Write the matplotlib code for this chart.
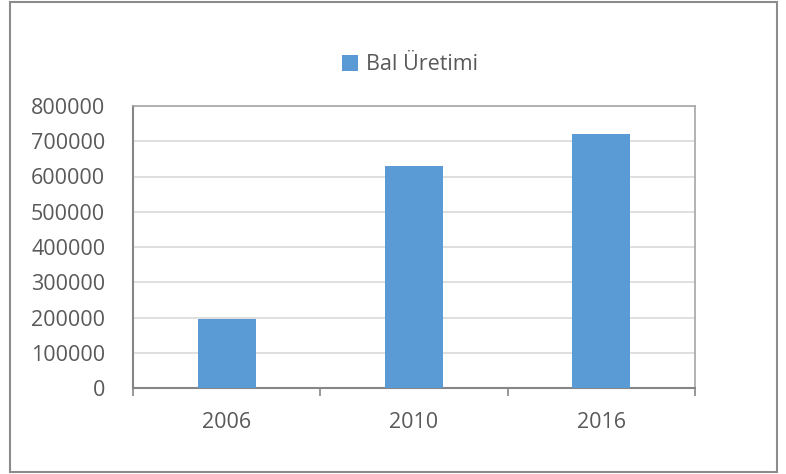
import matplotlib
matplotlib.use("Agg")
import matplotlib.pyplot as plt
from matplotlib.patches import Rectangle
import numpy as np

# data
years = ["2006", "2010", "2016"]
bal_uretimi = [197000, 630000, 720000]
series_name = "Bal Üretimi"

plt.rcParams['font.family'] = ['Open Sans', 'DejaVu Sans']

fig = plt.figure(figsize=(7.86, 4.74), dpi=100)
ax = fig.add_axes([133 / 786, 1 - 388 / 474, (695 - 133) / 786, (388 - 106) / 474])

x = np.arange(len(years))
ax.bar(x, bal_uretimi, width=0.31, color="#5B9BD5", zorder=3, label=series_name)

ax.set_xlim(-0.5, len(years) - 0.5)
ax.set_ylim(0, 800000)
ax.set_yticks(np.arange(0, 800001, 100000))
ax.set_yticklabels([str(v) for v in range(0, 800001, 100000)])
ax.grid(axis="y", color="#D9D9D9", linewidth=1.2, zorder=0)

# category labels in the middle, tick marks on the boundaries
ax.set_xticks(x)
ax.set_xticklabels(years)
ax.set_xticks(np.arange(-0.5, len(years)), minor=True)
ax.tick_params(axis="x", which="major", length=0, pad=17, labelsize=15.5, labelcolor="#595959")
ax.tick_params(axis="x", which="minor", length=6, width=1.2, color="#868686", direction="out")
ax.tick_params(axis="y", length=0, pad=20, labelsize=15.5, labelcolor="#595959")

for side in ["left", "bottom"]:
    ax.spines[side].set_color("#868686")
    ax.spines[side].set_linewidth(1.5)
for side in ["top", "right"]:
    ax.spines[side].set_color("#A6A6A6")
    ax.spines[side].set_linewidth(1.2)

leg = fig.legend(loc="center", bbox_to_anchor=(410 / 786, 1 - 65 / 474), frameon=False,
                 fontsize=15.5, handlelength=0.75, handleheight=0.75, handletextpad=0.4)
for t in leg.get_texts():
    t.set_color("#595959")

# outer chart border
fig.patches.append(Rectangle((10 / 786, 2 / 474), 767 / 786, 470 / 474, transform=fig.transFigure,
                             fill=False, edgecolor="#8C8C8C", linewidth=1.5))

fig.savefig("out.png", dpi=100)
